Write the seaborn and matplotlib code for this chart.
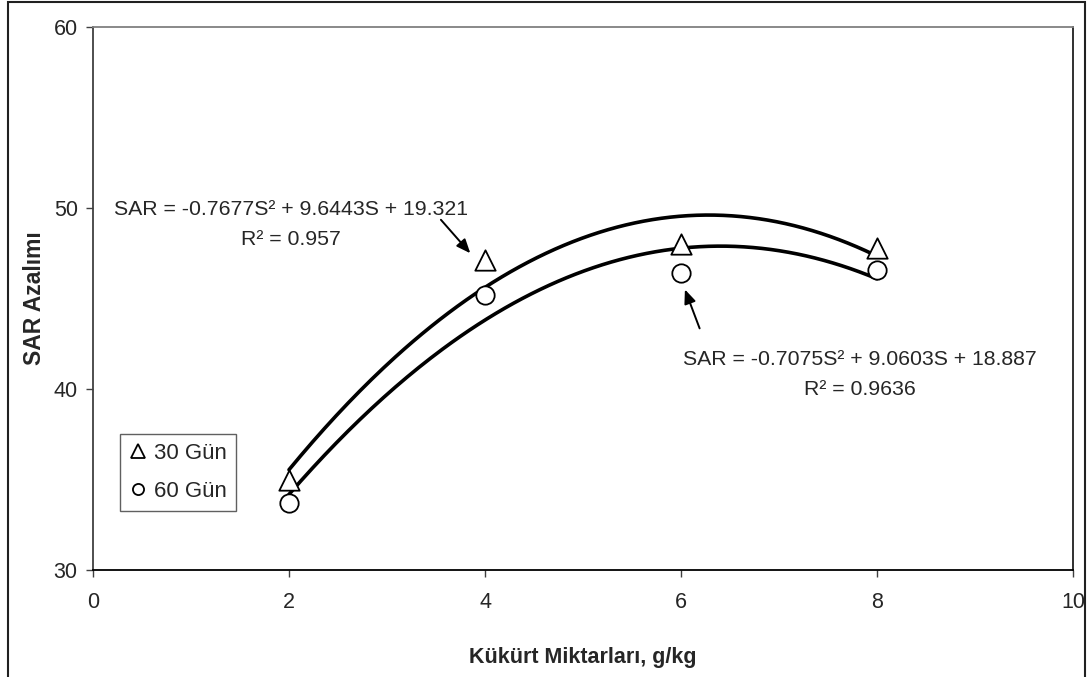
import numpy as np
import pandas as pd
import matplotlib
matplotlib.use("Agg")
import matplotlib.pyplot as plt
from matplotlib.lines import Line2D
from matplotlib.patches import Rectangle
import seaborn as sns

# Sulphur doses (g/kg) and SAR decrease after 30 and 60 days
kukurt = [2, 4, 6, 8]
sar_30 = [35.0, 47.1, 48.0, 47.8]
sar_60 = [33.7, 45.2, 46.4, 46.6]

# Quadratic trend lines (a*S^2 + b*S + c) and their R^2
coef_30 = [-0.7677, 9.6443, 19.321]
coef_60 = [-0.7075, 9.0603, 18.887]
r2_30 = "0.957"
r2_60 = "0.9636"

series_labels = ["30 Gün", "60 Gün"]
x_ticks = [0, 2, 4, 6, 8, 10]
y_ticks = [30, 40, 50, 60]

sns.set_style("white")
plt.rcParams["font.family"] = ["Liberation Sans", "DejaVu Sans"]

fig = plt.figure(figsize=(10.87, 6.77), dpi=100)
ax = fig.add_axes([93 / 1087, 1 - 570 / 677, 980 / 1087, 543 / 677])

points = pd.DataFrame({
    "S": kukurt * 2,
    "SAR": sar_30 + sar_60,
    "grup": [series_labels[0]] * 4 + [series_labels[1]] * 4,
})

# trend curves evaluated from the fitted coefficients
s_grid = np.linspace(min(kukurt), max(kukurt), 200)
curves = pd.DataFrame({
    "S": np.concatenate([s_grid, s_grid]),
    "SAR": np.concatenate([np.polyval(coef_30, s_grid), np.polyval(coef_60, s_grid)]),
    "grup": [series_labels[0]] * len(s_grid) + [series_labels[1]] * len(s_grid),
})
sns.lineplot(data=curves, x="S", y="SAR", units="grup", estimator=None,
             color="black", linewidth=2.6, ax=ax, legend=False, zorder=2)

sns.scatterplot(data=points[points.grup == series_labels[0]], x="S", y="SAR",
                marker="^", s=215, facecolor="white", edgecolor="black",
                linewidth=1.3, ax=ax, legend=False, zorder=3)
sns.scatterplot(data=points[points.grup == series_labels[1]], x="S", y="SAR",
                marker="o", s=175, facecolor="white", edgecolor="black",
                linewidth=1.3, ax=ax, legend=False, zorder=3)

ax.set_xlim(0, 10)
ax.set_ylim(30, 60)
ax.set_xticks(x_ticks)
ax.set_yticks(y_ticks)
ax.tick_params(axis="both", which="major", labelsize=15.5, length=5, width=1,
               color="#404040", direction="out", pad=6)
ax.tick_params(axis="x", pad=11)
ax.tick_params(left=True, bottom=True)

for side, col in [("left", "#404040"), ("bottom", "black"),
                  ("top", "#808080"), ("right", "#202020")]:
    ax.spines[side].set_visible(True)
    ax.spines[side].set_color(col)
    ax.spines[side].set_linewidth(1.3)

ax.set_xlabel("Kükürt Miktarları, g/kg", fontsize=15.5, fontweight="bold")
ax.set_ylabel("SAR Azalımı", fontsize=16.5, fontweight="bold")
ax.xaxis.set_label_coords(0.5, -0.142)
ax.yaxis.set_label_coords(-0.048, 0.5)


def eq_text(coef):
    a, b, c = coef
    return f"SAR = {a:.4f}S² + {b:.4f}S + {c:.3f}"


ax.text(2.02, 49.1, eq_text(coef_30) + "\nR² = " + r2_30, ha="center", va="center",
        fontsize=15.3, linespacing=1.75)
ax.text(7.83, 40.8, eq_text(coef_60) + "\nR² = " + r2_60, ha="center", va="center",
        fontsize=15.3, linespacing=1.75)

arrow_kw = dict(arrowstyle="-|>,head_length=0.6,head_width=0.25", color="black",
                lw=1.4, mutation_scale=14, shrinkA=0, shrinkB=0)
ax.annotate("", xy=(3.85, 47.5), xytext=(3.55, 49.35), arrowprops=arrow_kw)
ax.annotate("", xy=(6.04, 45.5), xytext=(6.19, 43.35), arrowprops=arrow_kw)

handles = [
    Line2D([], [], marker="^", linestyle="none", markersize=10.5,
           markerfacecolor="white", markeredgecolor="black", markeredgewidth=1.3),
    Line2D([], [], marker="o", linestyle="none", markersize=8,
           markerfacecolor="white", markeredgecolor="black", markeredgewidth=1.3),
]
leg = ax.legend(handles, series_labels, loc="lower left", bbox_to_anchor=(0.0276, 0.109),
                fontsize=16, frameon=True, fancybox=False, edgecolor="#606060",
                framealpha=1, handlelength=0.8, handletextpad=0.35, borderpad=0.4,
                labelspacing=0.75, borderaxespad=0)
leg.get_frame().set_linewidth(1.0)

# outer chart frame
fig.patches.append(Rectangle((8 / 1087, -0.01), (1085 - 8) / 1087, 1.0 - 2 / 677 + 0.01,
                             transform=fig.transFigure, fill=False,
                             edgecolor="#202020", linewidth=1.5, zorder=10))

fig.savefig("out.png", dpi=100, facecolor="white")
